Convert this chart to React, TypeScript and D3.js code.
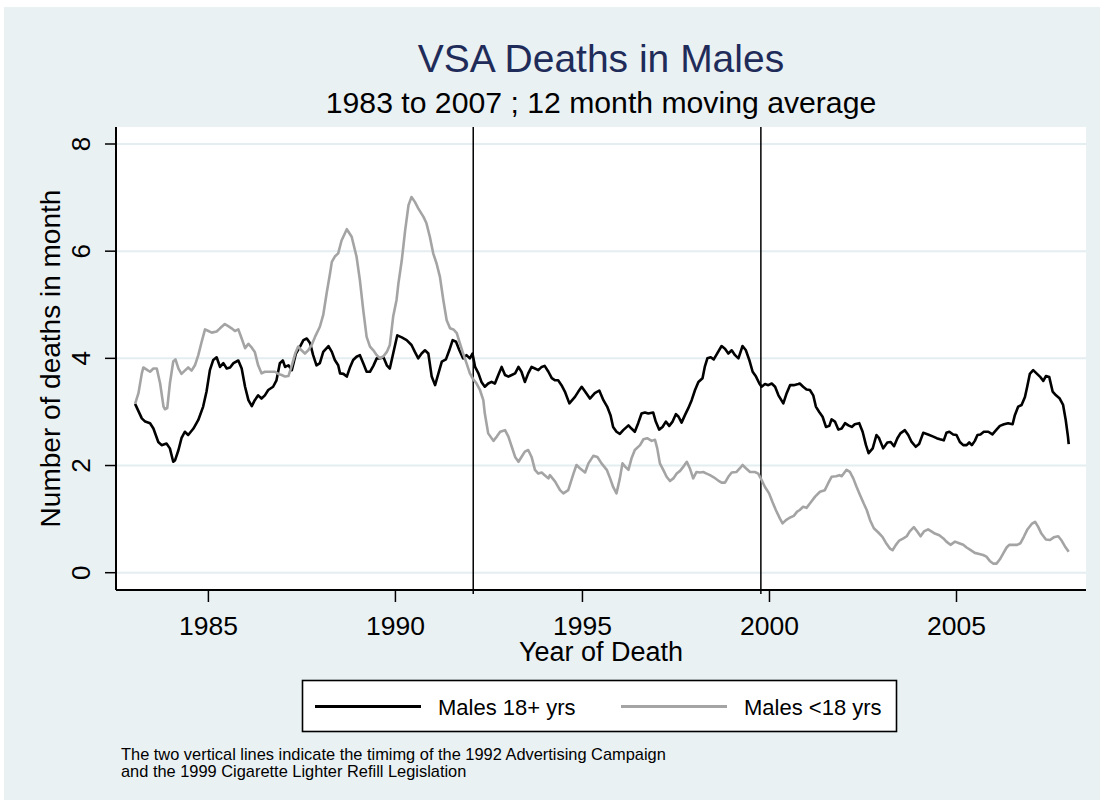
import React from "react";
import * as d3 from "d3";

// 12-month moving average as [year, deaths]
const males18Plus: [number, number][] = [
  [1983.04, 3.15], [1983.22, 2.88], [1983.31, 2.82], [1983.44, 2.79], [1983.53, 2.69], [1983.66, 2.44],
  [1983.75, 2.38], [1983.88, 2.41], [1983.97, 2.32], [1984.06, 2.07], [1984.11, 2.1], [1984.2, 2.29],
  [1984.28, 2.51], [1984.37, 2.63], [1984.46, 2.57], [1984.6, 2.69], [1984.73, 2.85], [1984.86, 3.1],
  [1984.95, 3.38], [1985.04, 3.78], [1985.13, 3.97], [1985.22, 4.02], [1985.31, 3.84], [1985.4, 3.91],
  [1985.49, 3.81], [1985.58, 3.83], [1985.67, 3.91], [1985.8, 3.96], [1985.89, 3.81], [1985.98, 3.47],
  [1986.07, 3.22], [1986.16, 3.11], [1986.24, 3.22], [1986.33, 3.31], [1986.42, 3.25], [1986.51, 3.31],
  [1986.6, 3.41], [1986.73, 3.47], [1986.82, 3.59], [1986.91, 3.91], [1986.99, 3.96], [1987.05, 3.84],
  [1987.14, 3.87], [1987.23, 3.78], [1987.34, 4.09], [1987.45, 4.22], [1987.54, 4.34], [1987.63, 4.37],
  [1987.72, 4.28], [1987.8, 4.06], [1987.89, 3.87], [1987.98, 3.91], [1988.07, 4.12], [1988.21, 4.23],
  [1988.3, 4.12], [1988.38, 3.97], [1988.47, 3.87], [1988.52, 3.72], [1988.61, 3.71], [1988.7, 3.66],
  [1988.79, 3.84], [1988.87, 3.97], [1988.96, 4.03], [1989.05, 4.06], [1989.14, 3.91], [1989.23, 3.75],
  [1989.32, 3.75], [1989.41, 3.86], [1989.5, 4.0], [1989.59, 4.0], [1989.68, 4.02], [1989.77, 3.87],
  [1989.85, 3.81], [1989.94, 4.09], [1990.05, 4.43], [1990.17, 4.39], [1990.3, 4.34], [1990.43, 4.25],
  [1990.52, 4.12], [1990.61, 4.0], [1990.7, 4.09], [1990.79, 4.15], [1990.88, 4.09], [1990.97, 3.66],
  [1991.06, 3.5], [1991.15, 3.72], [1991.24, 3.94], [1991.35, 3.98], [1991.44, 4.15], [1991.53, 4.34],
  [1991.62, 4.31], [1991.71, 4.15], [1991.81, 4.0], [1991.9, 4.06], [1991.99, 4.0], [1992.06, 4.09],
  [1992.13, 3.84], [1992.22, 3.72], [1992.3, 3.56], [1992.39, 3.47], [1992.48, 3.53], [1992.57, 3.56],
  [1992.66, 3.53], [1992.75, 3.69], [1992.84, 3.84], [1992.93, 3.69], [1993.02, 3.66], [1993.11, 3.69],
  [1993.2, 3.72], [1993.29, 3.84], [1993.37, 3.75], [1993.46, 3.56], [1993.55, 3.72], [1993.64, 3.84],
  [1993.73, 3.81], [1993.82, 3.78], [1993.91, 3.84], [1993.99, 3.86], [1994.09, 3.75], [1994.18, 3.63],
  [1994.27, 3.59], [1994.35, 3.59], [1994.44, 3.5], [1994.53, 3.38], [1994.65, 3.16], [1994.8, 3.28],
  [1994.89, 3.38], [1994.98, 3.47], [1995.07, 3.38], [1995.2, 3.25], [1995.33, 3.35], [1995.45, 3.4],
  [1995.56, 3.22], [1995.66, 3.1], [1995.75, 2.94], [1995.82, 2.72], [1995.91, 2.63], [1996.0, 2.59],
  [1996.09, 2.66], [1996.23, 2.75], [1996.31, 2.69], [1996.4, 2.63], [1996.49, 2.79], [1996.58, 2.97],
  [1996.67, 2.99], [1996.76, 2.97], [1996.89, 2.99], [1996.96, 2.82], [1997.05, 2.67], [1997.14, 2.72],
  [1997.23, 2.82], [1997.32, 2.74], [1997.41, 2.82], [1997.5, 2.96], [1997.57, 2.91], [1997.65, 2.8],
  [1997.74, 2.94], [1997.83, 3.07], [1997.92, 3.22], [1998.01, 3.41], [1998.1, 3.56], [1998.21, 3.63],
  [1998.27, 3.84], [1998.34, 4.0], [1998.43, 4.02], [1998.51, 3.98], [1998.6, 4.09], [1998.72, 4.23],
  [1998.81, 4.18], [1998.9, 4.09], [1998.99, 4.15], [1999.08, 4.06], [1999.17, 4.0], [1999.28, 4.23],
  [1999.37, 4.15], [1999.46, 3.97], [1999.55, 3.75], [1999.64, 3.66], [1999.73, 3.53], [1999.79, 3.47],
  [1999.88, 3.52], [1999.97, 3.5], [2000.06, 3.53], [2000.15, 3.47], [2000.24, 3.31], [2000.37, 3.16],
  [2000.46, 3.35], [2000.55, 3.5], [2000.65, 3.5], [2000.77, 3.52], [2000.81, 3.53], [2000.9, 3.47],
  [2000.99, 3.42], [2001.08, 3.41], [2001.17, 3.31], [2001.24, 3.1], [2001.33, 3.0], [2001.42, 2.91],
  [2001.51, 2.72], [2001.6, 2.74], [2001.66, 2.86], [2001.75, 2.82], [2001.84, 2.67], [2001.93, 2.69],
  [2002.02, 2.79], [2002.11, 2.75], [2002.2, 2.72], [2002.28, 2.77], [2002.4, 2.79], [2002.49, 2.63],
  [2002.58, 2.38], [2002.65, 2.23], [2002.76, 2.32], [2002.86, 2.57], [2002.93, 2.51], [2003.04, 2.32],
  [2003.15, 2.43], [2003.24, 2.44], [2003.33, 2.36], [2003.42, 2.51], [2003.5, 2.6], [2003.62, 2.66],
  [2003.71, 2.57], [2003.8, 2.44], [2003.91, 2.35], [2004.0, 2.4], [2004.11, 2.61], [2004.24, 2.58],
  [2004.38, 2.54], [2004.47, 2.51], [2004.56, 2.49], [2004.66, 2.47], [2004.73, 2.61], [2004.81, 2.63],
  [2004.91, 2.58], [2005.0, 2.57], [2005.09, 2.44], [2005.18, 2.38], [2005.27, 2.38], [2005.34, 2.43],
  [2005.41, 2.38], [2005.49, 2.46], [2005.56, 2.57], [2005.64, 2.58], [2005.73, 2.63], [2005.85, 2.63],
  [2005.96, 2.58], [2006.07, 2.67], [2006.16, 2.74], [2006.27, 2.77], [2006.38, 2.79], [2006.5, 2.77],
  [2006.56, 2.94], [2006.65, 3.1], [2006.74, 3.13], [2006.83, 3.28], [2006.89, 3.47], [2006.96, 3.71],
  [2007.05, 3.78], [2007.14, 3.72], [2007.23, 3.66], [2007.32, 3.58], [2007.39, 3.67], [2007.48, 3.65],
  [2007.57, 3.38], [2007.66, 3.31], [2007.76, 3.25], [2007.85, 3.13], [2007.92, 2.85], [2007.98, 2.54],
  [2008.0, 2.4],
];

const malesUnder18: [number, number][] = [
  [1983.04, 3.15], [1983.13, 3.35], [1983.22, 3.72], [1983.26, 3.83], [1983.35, 3.79], [1983.44, 3.75],
  [1983.53, 3.81], [1983.62, 3.81], [1983.71, 3.53], [1983.8, 3.1], [1983.84, 3.05], [1983.9, 3.07],
  [1983.97, 3.53], [1984.06, 3.94], [1984.12, 3.98], [1984.2, 3.81], [1984.28, 3.71], [1984.37, 3.77],
  [1984.46, 3.83], [1984.55, 3.77], [1984.64, 3.87], [1984.73, 4.06], [1984.82, 4.31], [1984.91, 4.54],
  [1985.0, 4.51], [1985.09, 4.48], [1985.22, 4.5], [1985.31, 4.56], [1985.44, 4.64], [1985.53, 4.6],
  [1985.62, 4.56], [1985.71, 4.51], [1985.8, 4.54], [1985.89, 4.37], [1985.98, 4.19], [1986.07, 4.27],
  [1986.16, 4.2], [1986.24, 4.12], [1986.33, 3.87], [1986.42, 3.72], [1986.51, 3.75], [1986.65, 3.75],
  [1986.78, 3.75], [1986.87, 3.71], [1986.96, 3.69], [1987.05, 3.66], [1987.14, 3.67], [1987.23, 3.87],
  [1987.32, 4.09], [1987.4, 4.22], [1987.49, 4.15], [1987.58, 4.09], [1987.67, 4.15], [1987.76, 4.25],
  [1987.85, 4.4], [1987.98, 4.59], [1988.07, 4.81], [1988.16, 5.21], [1988.25, 5.58], [1988.3, 5.8],
  [1988.38, 5.9], [1988.47, 5.96], [1988.56, 6.2], [1988.7, 6.41], [1988.83, 6.27], [1988.96, 5.9],
  [1989.05, 5.46], [1989.14, 4.9], [1989.23, 4.4], [1989.32, 4.22], [1989.41, 4.15], [1989.5, 4.06],
  [1989.59, 4.0], [1989.68, 4.04], [1989.77, 4.12], [1989.85, 4.25], [1989.94, 4.78], [1990.03, 5.09],
  [1990.08, 5.4], [1990.17, 5.83], [1990.26, 6.39], [1990.35, 6.86], [1990.43, 7.01], [1990.52, 6.92],
  [1990.61, 6.8], [1990.75, 6.64], [1990.83, 6.52], [1990.92, 6.27], [1991.01, 5.96], [1991.1, 5.77],
  [1991.19, 5.52], [1991.28, 5.09], [1991.37, 4.71], [1991.46, 4.56], [1991.55, 4.54], [1991.64, 4.47],
  [1991.71, 4.31], [1991.81, 4.09], [1991.9, 3.91], [1991.99, 3.72], [1992.08, 3.61], [1992.17, 3.53],
  [1992.26, 3.41], [1992.35, 3.22], [1992.39, 2.97], [1992.48, 2.6], [1992.62, 2.46], [1992.71, 2.54],
  [1992.8, 2.63], [1992.93, 2.66], [1993.02, 2.54], [1993.11, 2.35], [1993.2, 2.16], [1993.29, 2.07],
  [1993.37, 2.16], [1993.46, 2.26], [1993.55, 2.29], [1993.64, 2.16], [1993.73, 1.92], [1993.82, 1.85],
  [1993.91, 1.87], [1993.99, 1.82], [1994.09, 1.76], [1994.13, 1.82], [1994.27, 1.7], [1994.4, 1.54],
  [1994.49, 1.48], [1994.62, 1.54], [1994.76, 1.85], [1994.84, 2.01], [1994.93, 1.95], [1995.07, 1.87],
  [1995.16, 2.04], [1995.29, 2.18], [1995.4, 2.16], [1995.51, 2.04], [1995.65, 1.92], [1995.74, 1.76],
  [1995.82, 1.6], [1995.91, 1.48], [1996.0, 1.76], [1996.07, 2.04], [1996.14, 1.98], [1996.23, 1.92],
  [1996.31, 2.13], [1996.4, 2.29], [1996.54, 2.38], [1996.63, 2.49], [1996.73, 2.51], [1996.85, 2.46],
  [1996.94, 2.48], [1997.0, 2.32], [1997.07, 2.04], [1997.16, 1.92], [1997.25, 1.79], [1997.34, 1.71],
  [1997.43, 1.76], [1997.52, 1.85], [1997.61, 1.9], [1997.7, 1.98], [1997.79, 2.07], [1997.87, 1.95],
  [1997.96, 1.76], [1998.05, 1.88], [1998.14, 1.87], [1998.23, 1.88], [1998.32, 1.85], [1998.41, 1.82],
  [1998.51, 1.78], [1998.63, 1.72], [1998.72, 1.68], [1998.81, 1.68], [1998.9, 1.79], [1998.99, 1.87],
  [1999.12, 1.88], [1999.21, 1.95], [1999.28, 2.01], [1999.37, 1.95], [1999.48, 1.88], [1999.61, 1.88],
  [1999.7, 1.85], [1999.79, 1.73], [1999.88, 1.6], [1999.99, 1.48], [2000.08, 1.32], [2000.17, 1.17],
  [2000.28, 1.01], [2000.35, 0.92], [2000.44, 0.98], [2000.55, 1.03], [2000.65, 1.06], [2000.74, 1.14],
  [2000.81, 1.17], [2000.9, 1.23], [2000.99, 1.21], [2001.08, 1.29], [2001.22, 1.42], [2001.35, 1.51],
  [2001.48, 1.54], [2001.57, 1.67], [2001.66, 1.79], [2001.78, 1.8], [2001.87, 1.82], [2001.93, 1.8],
  [2002.06, 1.92], [2002.15, 1.88], [2002.24, 1.76], [2002.33, 1.6], [2002.42, 1.45], [2002.52, 1.29],
  [2002.6, 1.17], [2002.69, 0.98], [2002.79, 0.83], [2002.91, 0.75], [2003.02, 0.67], [2003.11, 0.56],
  [2003.22, 0.45], [2003.29, 0.42], [2003.38, 0.52], [2003.47, 0.6], [2003.58, 0.64], [2003.67, 0.68],
  [2003.75, 0.77], [2003.86, 0.85], [2003.95, 0.77], [2004.04, 0.68], [2004.13, 0.77], [2004.24, 0.81],
  [2004.33, 0.77], [2004.42, 0.73], [2004.54, 0.7], [2004.65, 0.64], [2004.73, 0.58], [2004.84, 0.52],
  [2004.96, 0.58], [2005.07, 0.55], [2005.18, 0.52], [2005.27, 0.47], [2005.38, 0.42], [2005.49, 0.37],
  [2005.61, 0.35], [2005.71, 0.33], [2005.8, 0.3], [2005.89, 0.22], [2005.98, 0.17], [2006.07, 0.17],
  [2006.16, 0.25], [2006.25, 0.36], [2006.34, 0.47], [2006.41, 0.52], [2006.52, 0.52], [2006.62, 0.52],
  [2006.71, 0.55], [2006.8, 0.67], [2006.89, 0.8], [2007.01, 0.91], [2007.1, 0.95], [2007.18, 0.86],
  [2007.27, 0.73], [2007.39, 0.62], [2007.5, 0.61], [2007.6, 0.66], [2007.72, 0.68], [2007.81, 0.6],
  [2007.9, 0.49], [2008.0, 0.39],
];

const xTicks = [1985, 1990, 1995, 2000, 2005];
const yTicks = [0, 2, 4, 6, 8];
// 1992 advertising campaign, 1999 lighter refill legislation
const eventYears = [1992.08, 1999.77];
const seriesLabels = ["Males 18+ yrs", "Males <18 yrs"];
const noteLines = [
  "The two vertical lines indicate the timimg of the 1992 Advertising Campaign",
  "and the 1999 Cigarette Lighter Refill Legislation",
];

const W = 1106;
const H = 807;
const plot = { left: 116, right: 1086, top: 127, bottom: 590 };
const font = "'Liberation Sans', Arial, sans-serif";
const bg = "#eaf1f3";
const grid = "#e4edf0";
const black = "#000";
const gray = "#a4a4a4";

export default function App() {
  const x = d3.scaleLinear().domain([1985, 2005]).range([208.4, 956.5]);
  const y = d3.scaleLinear().domain([0, 8]).range([572.7, 144]);

  const line = d3
    .line<[number, number]>()
    .x((d) => x(d[0]))
    .y((d) => y(d[1]));

  const cx = (plot.left + plot.right) / 2;
  const cy = (plot.top + plot.bottom) / 2;

  const legend = [
    { label: seriesLabels[0], color: black, x0: 315 },
    { label: seriesLabels[1], color: gray, x0: 621 },
  ];

  return (
    <svg
      width={W}
      height={H}
      style={{ position: "absolute", left: 0, top: 0, fontFamily: font }}
    >
      <rect x={0} y={0} width={W} height={H} fill="#fff" />
      <rect x={4} y={7} width={1096} height={793} fill={bg} />

      <text x={cx} y={72} textAnchor="middle" fontSize={39} fill="#1f2c5a">
        VSA Deaths in Males
      </text>
      <text x={cx} y={113} textAnchor="middle" fontSize={30.2} fill="#000">
        1983 to 2007 ; 12 month moving average
      </text>

      <rect
        x={plot.left}
        y={plot.top}
        width={plot.right - plot.left}
        height={plot.bottom - plot.top}
        fill="#fff"
      />

      {yTicks.map((t) => (
        <g key={t}>
          <line x1={plot.left} x2={plot.right} y1={y(t)} y2={y(t)} stroke={grid} strokeWidth={2} />
          <line x1={105} x2={plot.left} y1={y(t)} y2={y(t)} stroke="#000" strokeWidth={1.5} />
          <text
            transform={`translate(90,${y(t)}) rotate(-90)`}
            textAnchor="middle"
            fontSize={26}
            fill="#000"
          >
            {t}
          </text>
        </g>
      ))}

      {eventYears.map((yr) => (
        <line
          key={yr}
          x1={x(yr)}
          x2={x(yr)}
          y1={plot.top}
          y2={plot.bottom + 4}
          stroke="#000"
          strokeWidth={1.5}
        />
      ))}

      <path d={line(males18Plus) || ""} fill="none" stroke={black} strokeWidth={2.6} strokeLinejoin="round" />
      <path d={line(malesUnder18) || ""} fill="none" stroke={gray} strokeWidth={2.6} strokeLinejoin="round" />

      <line x1={plot.left} x2={plot.left} y1={plot.top} y2={plot.bottom} stroke="#000" strokeWidth={2} />
      <line x1={plot.left} x2={plot.right} y1={plot.bottom} y2={plot.bottom} stroke="#000" strokeWidth={2} />

      {xTicks.map((t) => (
        <g key={t}>
          <line x1={x(t)} x2={x(t)} y1={plot.bottom} y2={plot.bottom + 12} stroke="#000" strokeWidth={1.5} />
          <text x={x(t)} y={635} textAnchor="middle" fontSize={26.5} fill="#000">
            {t}
          </text>
        </g>
      ))}

      <text x={cx} y={661} textAnchor="middle" fontSize={27} fill="#000">
        Year of Death
      </text>
      <text
        transform={`translate(60,${cy}) rotate(-90)`}
        textAnchor="middle"
        fontSize={28}
        fill="#000"
      >
        Number of deaths in month
      </text>

      <rect x={302.5} y={680.5} width={594} height={51} fill="#fff" stroke="#000" strokeWidth={1.6} />
      {legend.map((l) => (
        <g key={l.label}>
          <line x1={l.x0} x2={l.x0 + 106} y1={706.5} y2={706.5} stroke={l.color} strokeWidth={2.8} />
          <text x={l.x0 + 123} y={715} fontSize={22} fill="#000">
            {l.label}
          </text>
        </g>
      ))}

      {noteLines.map((s, i) => (
        <text key={i} x={121} y={760 + i * 16.5} fontSize={16.4} fill="#000">
          {s}
        </text>
      ))}
    </svg>
  );
}
